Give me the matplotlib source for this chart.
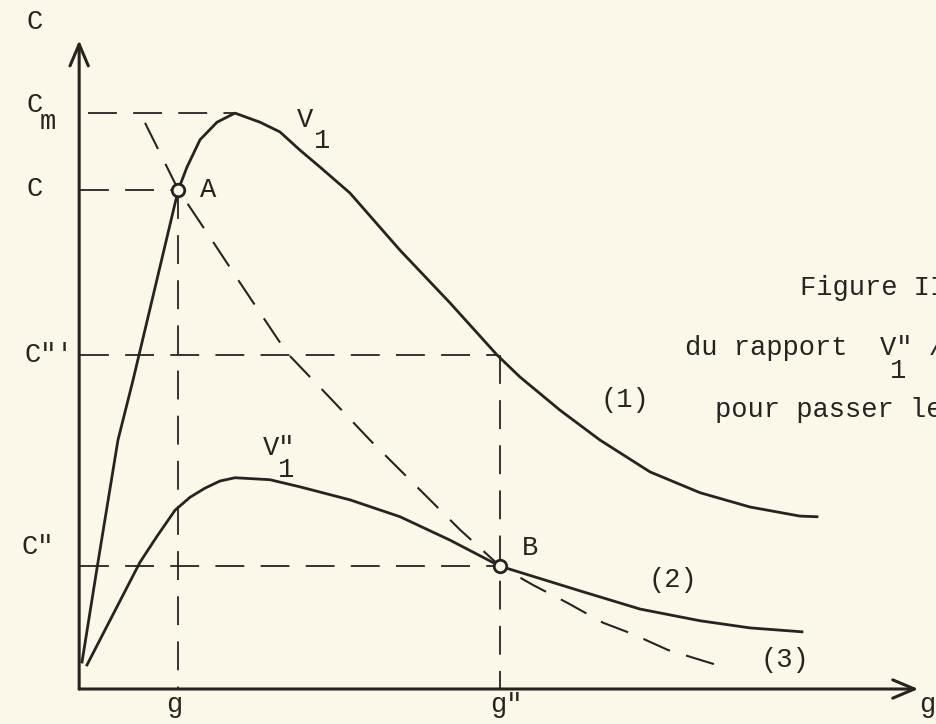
import matplotlib.pyplot as plt

# g along the horizontal axis, C up the vertical one (both on a 0-100 scale)
v1_g = [0.24, 2.14, 4.52, 6.31, 11.7, 12.74, 14.29, 16.31, 18.45, 21.43, 23.81,
        26.19, 28.57, 32.14, 38.1, 44.05, 49.64, 52.38, 57.14, 61.9, 67.86,
        73.81, 79.76, 85.71, 87.74]
v1_c = [4.15, 19.5, 38.3, 47.5, 76.8, 80.3, 84.5, 87.2, 88.6, 87.2, 85.7,
        82.9, 80.3, 76.3, 67.5, 59.4, 51.4, 48.0, 42.9, 38.3, 33.4,
        30.2, 28.0, 26.6, 26.5]

v1s_g = [0.83, 7.14, 9.17, 11.31, 13.1, 14.88, 16.67, 18.45, 22.6, 26.19,
         32.14, 38.1, 44.05, 50.0, 59.52, 66.67, 73.81, 79.76, 85.95]
v1s_c = [3.7, 19.5, 23.5, 27.5, 29.5, 30.9, 32.0, 32.5, 32.2, 31.1,
         29.1, 26.5, 22.9, 18.9, 15.1, 12.3, 10.5, 9.4, 8.8]

ratio_g = [7.74, 11.7, 15.48, 19.05, 24.64, 29.76, 34.52, 39.88, 45.24, 50.0,
           53.93, 58.1, 62.26, 65.71, 70.0, 76.55]
ratio_c = [87.1, 76.8, 69.5, 62.5, 51.7, 44.8, 38.3, 31.4, 24.5, 18.9,
           16.0, 13.2, 10.2, 8.5, 6.0, 3.4]

g_a, g_b = 11.7, 50.0
c_max, c_a, c_t, c_b = 88.6, 76.8, 51.4, 18.9
g_peak = 18.45

paper = '#fbf8ea'
ink = '#262421'
font = 'Liberation Mono'
size = 19.5

fig = plt.figure(figsize=(9.36, 7.24), dpi=100, facecolor=paper)
ax = fig.add_axes([80 / 936, 35 / 724, 840 / 936, 650 / 724])
ax.set_xlim(0, 100)
ax.set_ylim(0, 100)
ax.axis('off')

# axes drawn as arrows
arrow = dict(arrowstyle='->,head_length=1.3,head_width=0.55', lw=2.2,
             color=ink, shrinkA=0, shrinkB=0, mutation_scale=12)
ax.annotate('', xy=(-0.1, 99.8), xytext=(-0.1, 0), arrowprops=arrow,
            annotation_clip=False)
ax.annotate('', xy=(99.8, 0), xytext=(-0.1, 0), arrowprops=arrow,
            annotation_clip=False)

dash = dict(color=ink, lw=1.3, ls=(0, (16, 9)))
ax.plot([0.9, g_peak], [c_max, c_max], **dash)
ax.plot([0, g_a], [c_a, c_a], **dash)
ax.plot([0, 49.6], [c_t, c_t], **dash)
ax.plot([0, g_b], [c_b, c_b], **dash)
ax.plot([g_a, g_a], [c_a, 0], **dash)
ax.plot([g_b, g_b], [c_t, 0], **dash)

ax.plot(v1_g, v1_c, color=ink, lw=2.0, solid_joinstyle='round')
ax.plot(v1s_g, v1s_c, color=ink, lw=2.0, solid_joinstyle='round')
ax.plot(ratio_g, ratio_c, color=ink, lw=1.5, ls=(0, (14, 8)))

ax.plot([g_a, g_b], [c_a, c_b], ls='none', marker='o', ms=9, mfc=paper,
        mec=ink, mew=2.0)

def txt(x, y, s, ha='center', va='baseline'):
    ax.text(x, y, s, fontsize=size, family=font, color=ink,
            ha=ha, va=va, clip_on=False)

# vertical axis labels
txt(-5.4, 102.6, 'C', va='center')
txt(-5.4, 89.8, 'C', va='center')
txt(-3.8, 87.3, 'm', va='center')
txt(-5.4, 77.0, 'C', va='center')
txt(-3.7, 51.4, 'C"\'', va='center')
txt(-5.0, 21.8, 'C"', va='center')

# horizontal axis labels
txt(g_a - 0.5, -3.5, 'g')
txt(g_b + 0.7, -3.5, 'g"')
txt(100.9, -3.6, 'g')

txt(15.2, 76.8, 'A', va='center')
txt(53.6, 21.7, 'B', va='center')

txt(25.8, 86.5, 'V', ha='left')
txt(28.8, 83.2, '1')
txt(21.8, 36.0, 'V"', ha='left')
txt(24.5, 32.6, '1')

txt(64.9, 44.5, '(1)', va='center')
txt(70.6, 16.8, '(2)', va='center')
txt(83.9, 4.5, '(3)', va='center')

txt(85.7, 60.6, 'Figure II', ha='left')
txt(72.0, 51.4, 'du rapport  V" /', ha='left')
txt(97.4, 47.8, '1')
txt(75.6, 41.8, 'pour passer le', ha='left')

fig.savefig('out.png', dpi=100, facecolor=paper)
